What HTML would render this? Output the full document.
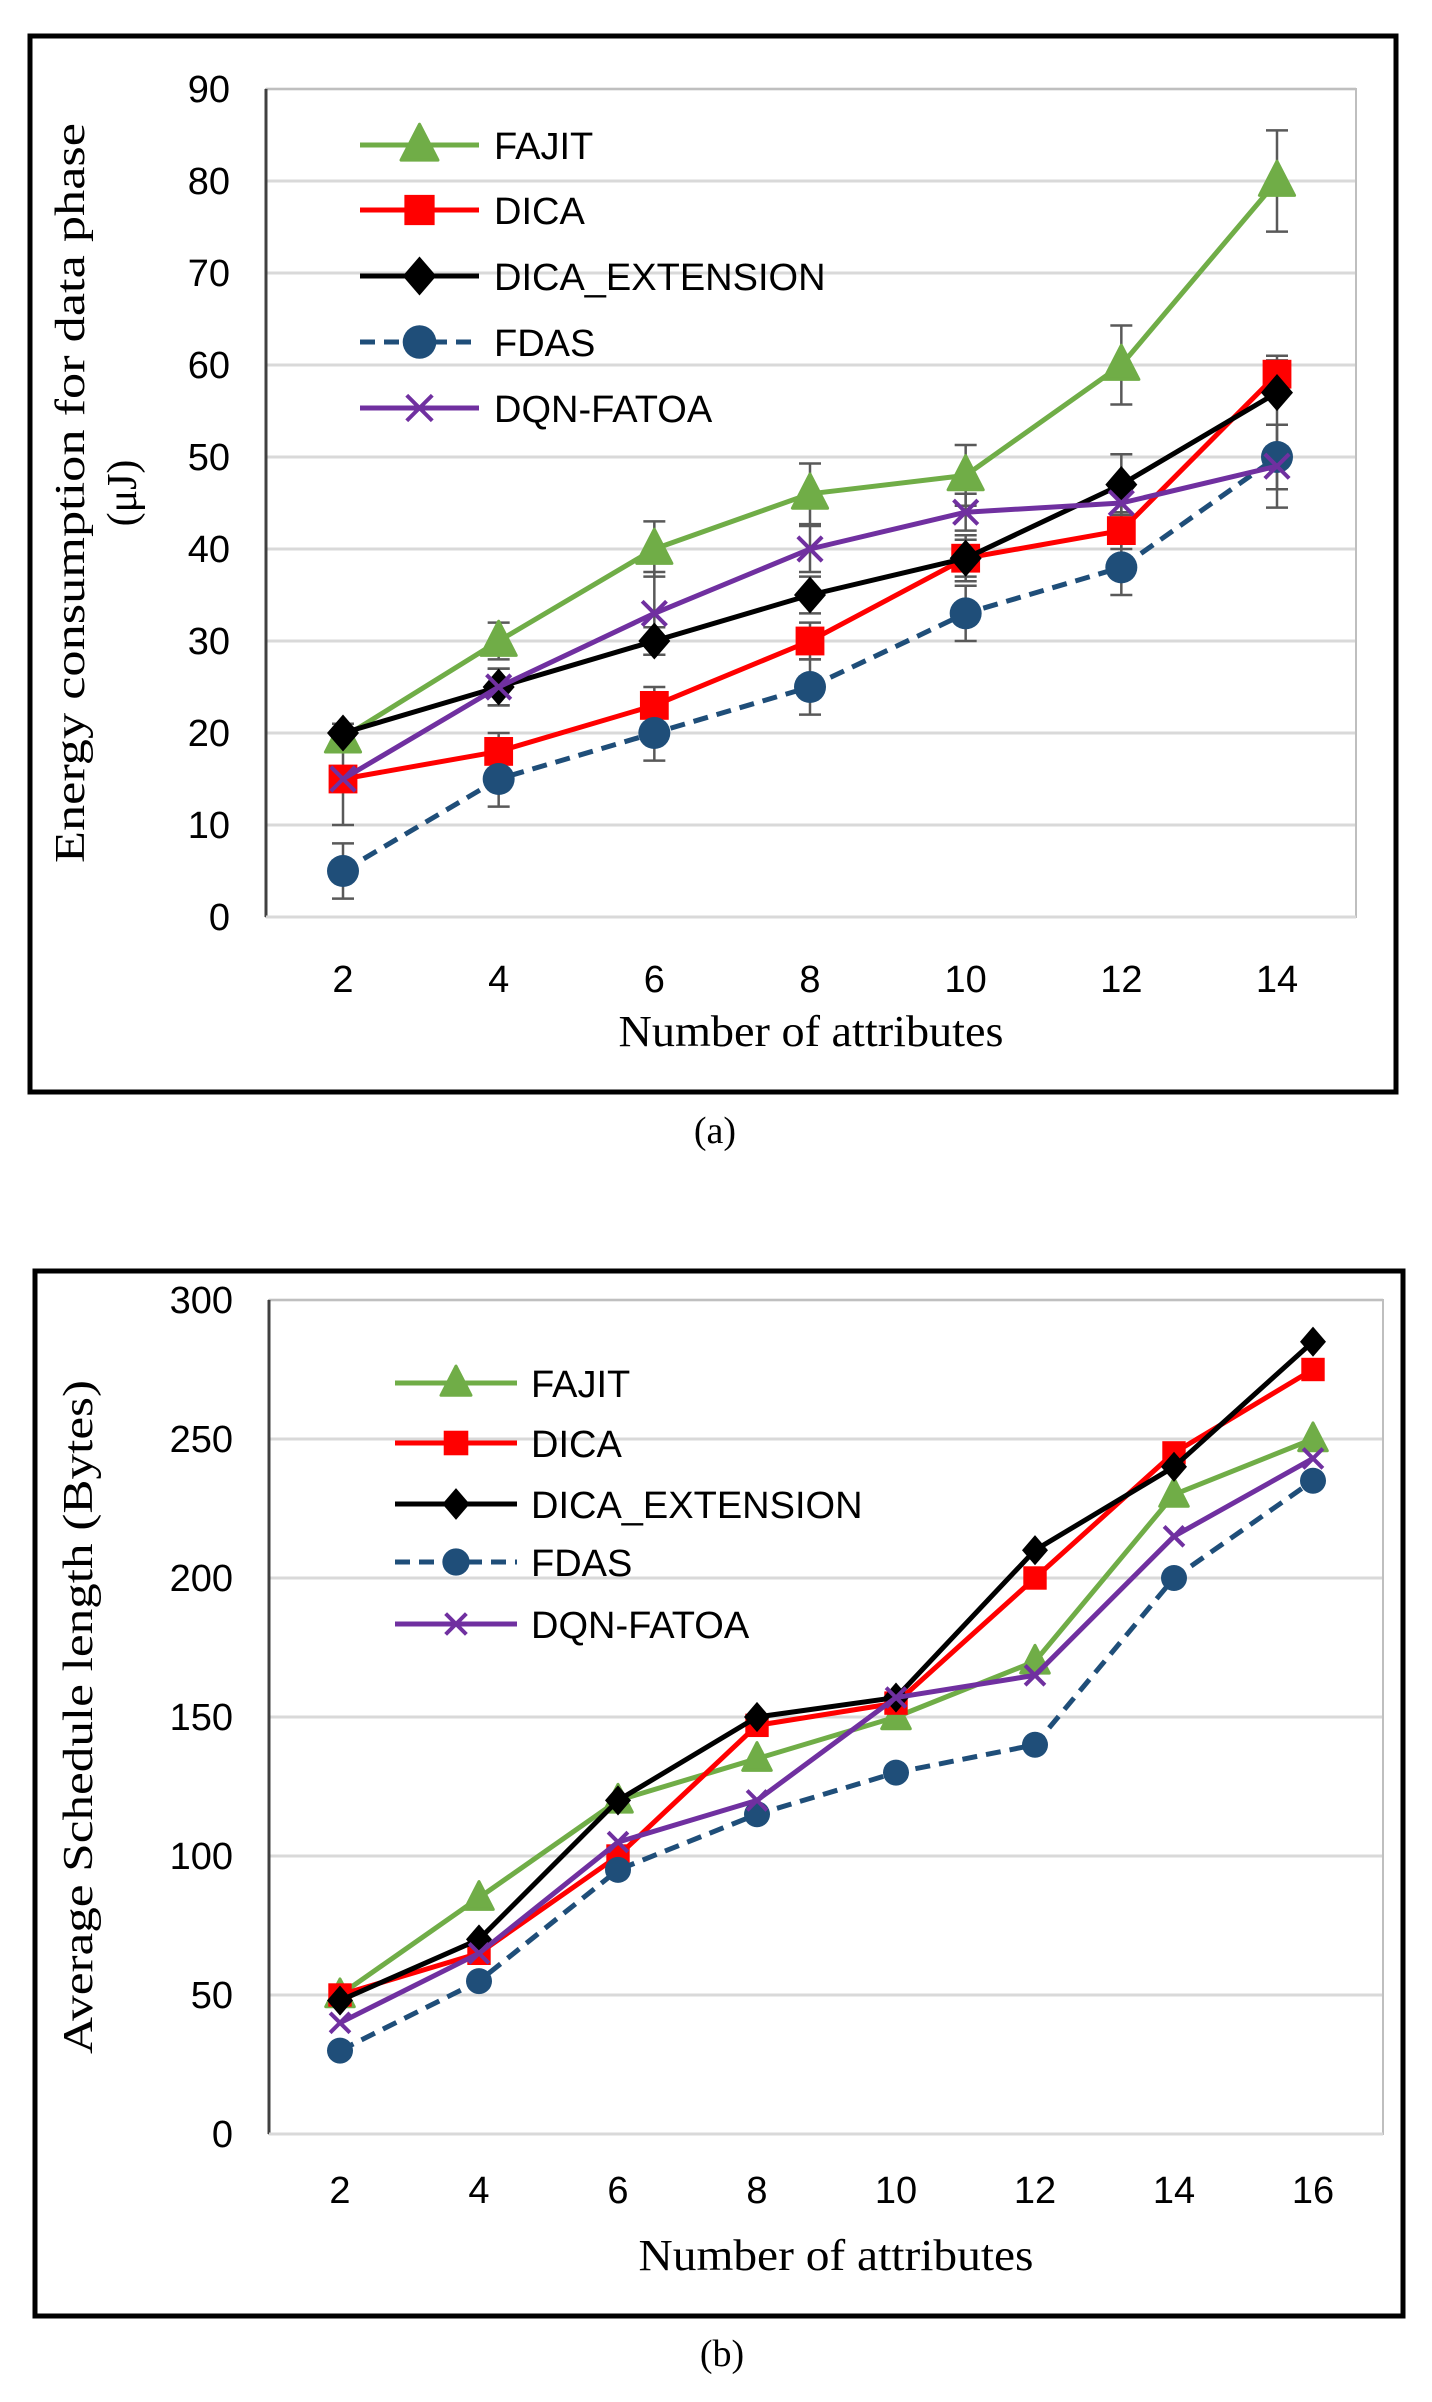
<!DOCTYPE html>
<html><head><meta charset="utf-8"><style>
html,body{margin:0;padding:0;background:#fff;}
svg{display:block;}
</style></head><body>
<svg id="root" width="1432" height="2402" viewBox="0 0 1432 2402" xmlns="http://www.w3.org/2000/svg">
<rect x="30" y="36" width="1366" height="1056" fill="none" stroke="#000" stroke-width="5"/>
<text x="715" y="1143" font-family="Liberation Serif, serif" font-size="38" text-anchor="middle">(a)</text>
<rect x="35" y="1271" width="1368" height="1045" fill="none" stroke="#000" stroke-width="5"/>
<text x="722" y="2366" font-family="Liberation Serif, serif" font-size="38" text-anchor="middle">(b)</text>
</svg>
<script>
const seriesNames = ["FAJIT","DICA","DICA_EXTENSION","FDAS","DQN-FATOA"];
const seriesColors = ["#70AD47","#FF0000","#000000","#1F4E79","#7030A0"];
const seriesMarkers = ["tri","sq","dia","circ","x"];
// Chart (a)
const catsA = [2,4,6,8,10,12,14];
const yTicksA = [0,10,20,30,40,50,60,70,80,90];
const fajitA = [19.5,30,40,46,48,60,80];
const dicaA = [15,18,23,30,39,42,59];
const dicaExtA = [20,25,30,35,39,47,57];
const fdasA = [5,15,20,25,33,38,50];
const dqnA = [15,25,33,40,44,45,49];
const errFajitA = [1.5,2,3,3.3,3.3,4.3,5.5];
const errDicaA = [5,2,2,2,2,2,2];
const errDicaExtA = [1,2,1.5,2,2.5,3.3,3.5];
const errFdasA = [3,3,3,3,3,3,3.5];
const errDqnA = [1,2,4.5,2.5,2,2,4.5];
// Chart (b)
const catsB = [2,4,6,8,10,12,14,16];
const yTicksB = [0,50,100,150,200,250,300];
const fajitB = [50,85,120,135,150,170,230,250];
const dicaB = [50,65,100,147,155,200,245,275];
const dicaExtB = [48,70,120,150,157,210,240,285];
const fdasB = [30,55,95,115,130,140,200,235];
const dqnB = [40,65,105,120,157,165,215,243];

const NS="http://www.w3.org/2000/svg";
const root=document.getElementById('root');
function mk(tag,attrs,parent){const e=document.createElementNS(NS,tag);for(const k in attrs)e.setAttribute(k,attrs[k]);(parent||root).appendChild(e);return e;}

function marker(g,type,cx,cy,color,s){
  let e;
  if(type==="tri") e=mk('polygon',{points:`${cx},${cy-s*0.62} ${cx-s*0.55},${cy+s*0.45} ${cx+s*0.55},${cy+s*0.45}`,fill:color,stroke:color,'stroke-width':3,'stroke-linejoin':'round'},g);
  else if(type==="sq") e=mk('rect',{x:cx-s*0.45,y:cy-s*0.45,width:s*0.9,height:s*0.9,fill:color},g);
  else if(type==="dia") e=mk('polygon',{points:`${cx},${cy-s*0.58} ${cx+s*0.5},${cy} ${cx},${cy+s*0.58} ${cx-s*0.5},${cy}`,fill:color},g);
  else if(type==="circ") e=mk('circle',{cx:cx,cy:cy,r:s*0.5,fill:color},g);
  else e=mk('path',{d:`M${cx-s*0.38},${cy-s*0.38}L${cx+s*0.38},${cy+s*0.38}M${cx+s*0.38},${cy-s*0.38}L${cx-s*0.38},${cy+s*0.38}`,stroke:color,'stroke-width':4,fill:'none'},g);
  
  
}

function drawChart(cfg){
  const {id,cats,ticks,series,errs,L,R,T,B,x0,x1,ymax,ms,lw,leg,yTitle,yTitleX,yTitleLen,tickY,titleY,titleLen,fs}=cfg;
  const g=mk('g',{});
  
  
  const xs=v=>x0+(v-cats[0])/(cats[cats.length-1]-cats[0])*(x1-x0);
  const ys=v=>B-v/ymax*(B-T);
  ticks.forEach(t=>{
    if(t>0){const l=mk('line',{x1:L,x2:R,y1:ys(t),y2:ys(t),stroke:'#d9d9d9','stroke-width':3},g);
    
    }
    const tx=mk('text',{x:L-36,y:ys(t)+13,'text-anchor':'end','font-family':'Liberation Sans, sans-serif','font-size':fs},g);
    tx.textContent=t;
    
    
  });
  const pa=mk('path',{d:`M${L},${T}H${R}V${B}H${L}Z`,fill:'none',stroke:'#bfbfbf','stroke-width':2},g);
  
  
  const ax=mk('line',{x1:L,x2:L,y1:T,y2:B,stroke:'#404040','stroke-width':3},g);
  
  
  const bx=mk('line',{x1:L,x2:R,y1:B,y2:B,stroke:'#d9d9d9','stroke-width':3},g);
  
  
  cats.forEach(c=>{
    const tx=mk('text',{x:xs(c),y:tickY,'text-anchor':'middle','font-family':'Liberation Sans, sans-serif','font-size':fs},g);
    tx.textContent=c;
    
    
  });
  const xt=mk('text',{x:(L+R)/2+(id==='a'?0:10),y:titleY,'text-anchor':'middle','font-family':'Liberation Serif, serif','font-size':44,textLength:titleLen,lengthAdjust:'spacingAndGlyphs'},g);
  xt.textContent='Number of attributes';
  
  
  yTitle.forEach((line,i)=>{
    const cy=(T+B)/2 - (id==='a'?10:0);
    const t=mk('text',{x:0,y:0,'text-anchor':'middle','font-family':'Liberation Serif, serif','font-size':42,transform:`translate(${yTitleX[i]},${cy}) rotate(-90)`},g);
    if(yTitleLen[i]){t.setAttribute('textLength',yTitleLen[i]);t.setAttribute('lengthAdjust','spacingAndGlyphs');}
    t.textContent=line;
    
    
  });
  if(errs){series.forEach((s,si)=>{s.forEach((v,i)=>{
    const e=errs[si][i],x=xs(cats[i]);
    const p=mk('path',{d:`M${x},${ys(v+e)}V${ys(v-e)}M${x-11},${ys(v+e)}H${x+11}M${x-11},${ys(v-e)}H${x+11}`,stroke:'#595959','stroke-width':2.5,fill:'none'},g);
    
    
  });});}
  series.forEach((s,si)=>{
    const d=s.map((v,i)=>(i?'L':'M')+xs(cats[i])+','+ys(v)).join('');
    const p=mk('path',{d:d,fill:'none',stroke:seriesColors[si],'stroke-width':lw,'stroke-linejoin':'round'},g);
    if(si===3)p.setAttribute('stroke-dasharray','15 9');
    
    
    s.forEach((v,i)=>marker(g,seriesMarkers[si],xs(cats[i]),ys(v),seriesColors[si],ms));
  });
  seriesNames.forEach((n,i)=>{
    const y=leg.ys[i];
    const lg=mk('g',{},g);
    
    
    const l=mk('line',{x1:leg.x1,x2:leg.x2,y1:y,y2:y,stroke:seriesColors[i],'stroke-width':lw},lg);
    if(i===3)l.setAttribute('stroke-dasharray','15 9');
    marker(lg,seriesMarkers[i],(leg.x1+leg.x2)/2,y,seriesColors[i],ms*1.05);
    const t=mk('text',{x:leg.tx,y:y+14,'font-family':'Liberation Sans, sans-serif','font-size':fs},lg);
    t.textContent=n;
  });
}

drawChart({id:'a',cats:catsA,ticks:yTicksA,series:[fajitA,dicaA,dicaExtA,fdasA,dqnA],
  errs:[errFajitA,errDicaA,errDicaExtA,errFdasA,errDqnA],
  L:266,R:1356,T:89,B:917,x0:343,x1:1277,ymax:90,ms:32,lw:5,
  leg:{x1:360,x2:479,tx:494,ys:[145,210,276,342,408]},
  yTitle:['Energy consumption for data phase','(μJ)'],yTitleX:[84,136],yTitleLen:[740,0],
  tickY:992,titleY:1046,titleLen:385,fs:38});
drawChart({id:'b',cats:catsB,ticks:yTicksB,series:[fajitB,dicaB,dicaExtB,fdasB,dqnB],errs:null,
  L:269,R:1383,T:1300,B:2134,x0:340,x1:1313,ymax:300,ms:26,lw:5,
  leg:{x1:395,x2:517,tx:531,ys:[1383,1443,1504,1562,1624]},
  yTitle:['Average  Schedule length (Bytes)'],yTitleX:[92],yTitleLen:[674],
  tickY:2203,titleY:2270,titleLen:395,fs:38});
</script>
</body></html>
